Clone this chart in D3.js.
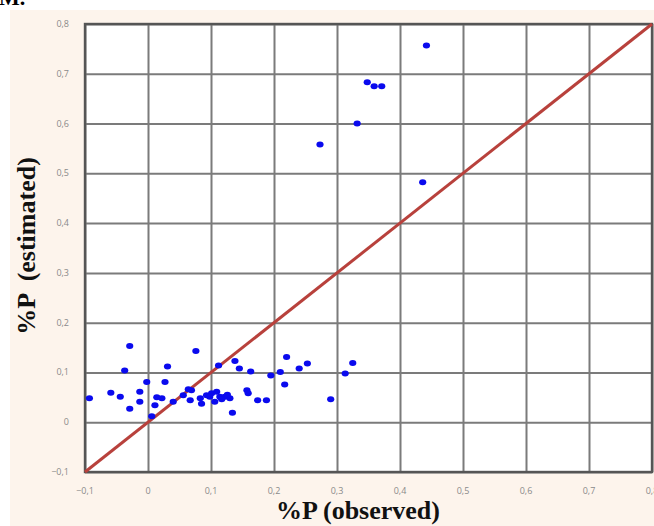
<!DOCTYPE html>
<html>
<head>
<meta charset="utf-8">
<script src="https://cdn.jsdelivr.net/npm/d3@7"></script>
<style>
  body { margin: 0; background: #fff; }
  .tick-label { font-family: "Open Sans", sans-serif; font-size: 9px; fill: #8a8a8a; }
  .axis-title { font-family: "Liberation Serif", serif; font-weight: bold; font-size: 26px; fill: #111; }
</style>
</head>
<body>
<div id="chart"></div>
<script>
// observed vs estimated %P
const observed = [
  0.442, 0.348, 0.359, 0.371, 0.332, 0.273, 0.436,
  -0.093, -0.059, -0.044, -0.029, -0.037, -0.029, -0.013, -0.013, -0.002, 0.006,
  0.011, 0.014, 0.022, 0.031, 0.027, 0.040, 0.056, 0.064, 0.069, 0.067,
  0.076, 0.083, 0.085, 0.093, 0.101, 0.109, 0.114, 0.106, 0.122, 0.130,
  0.112, 0.138, 0.145, 0.163, 0.157, 0.159, 0.134, 0.174, 0.188, 0.195,
  0.210, 0.220, 0.217, 0.240, 0.253, 0.290, 0.313, 0.325, 0.098, 0.117, 0.126
];
const estimated = [
  0.757, 0.683, 0.675, 0.675, 0.600, 0.558, 0.482,
  0.048, 0.059, 0.051, 0.153, 0.104, 0.027, 0.061, 0.041, 0.081, 0.012,
  0.034, 0.050, 0.048, 0.112, 0.081, 0.041, 0.054, 0.066, 0.064, 0.044,
  0.143, 0.048, 0.037, 0.054, 0.058, 0.061, 0.051, 0.041, 0.051, 0.048,
  0.114, 0.123, 0.108, 0.102, 0.064, 0.058, 0.019, 0.044, 0.044, 0.094,
  0.101, 0.131, 0.076, 0.108, 0.118, 0.046, 0.098, 0.119, 0.051, 0.046, 0.055
];
const xTicks = [-0.1, 0, 0.1, 0.2, 0.3, 0.4, 0.5, 0.6, 0.7, 0.8];
const yTicks = [-0.1, 0, 0.1, 0.2, 0.3, 0.4, 0.5, 0.6, 0.7, 0.8];
const identityLine = [-0.1, 0.8];

const W = 654, H = 526;
const margin = { top: 24, right: 2, bottom: 54, left: 85 };

const svg = d3.select('#chart').append('svg')
  .attr('width', W)
  .attr('height', H);

/* page-like peach background */
svg.append('rect')
  .attr('x', 10).attr('y', 10)
  .attr('width', W - 10).attr('height', H - 10)
  .attr('fill', '#fdf4ec');

/* cropped text from the source page (cut in the original too) */
svg.append('text')
  .attr('x', -1).attr('y', 5)
  .attr('font-family', 'Liberation Serif, serif')
  .attr('font-weight', 'bold')
  .attr('font-size', 22)
  .text('M.');

const x = d3.scaleLinear().domain([-0.1, 0.8]).range([margin.left, W - margin.right]);
const y = d3.scaleLinear().domain([-0.1, 0.8]).range([H - margin.bottom, margin.top]);

const fmt = (d) => d3.format('.1~f')(d).replace('.', ',');

/* plot area */
svg.append('rect')
  .attr('x', x(-0.1)).attr('y', y(0.8))
  .attr('width', x(0.8) - x(-0.1)).attr('height', y(-0.1) - y(0.8))
  .attr('fill', '#fff');

/* grid via axes */
const xGrid = svg.append('g')
  .attr('transform', `translate(0,${y(-0.1)})`)
  .call(d3.axisBottom(x).tickValues(xTicks).tickSize(-(y(-0.1) - y(0.8))).tickFormat(''));
const yGrid = svg.append('g')
  .attr('transform', `translate(${x(-0.1)},0)`)
  .call(d3.axisLeft(y).tickValues(yTicks).tickSize(-(x(0.8) - x(-0.1))).tickFormat(''));
[xGrid, yGrid].forEach((g) => {
  g.select('.domain').remove();
  g.selectAll('.tick line').attr('stroke', '#7b7b7b').attr('stroke-width', 2);
});

/* border */
svg.append('rect')
  .attr('x', x(-0.1)).attr('y', y(0.8))
  .attr('width', x(0.8) - x(-0.1)).attr('height', y(-0.1) - y(0.8))
  .attr('fill', 'none')
  .attr('stroke', '#555')
  .attr('stroke-width', 2.4);

/* tick labels */
svg.append('g').selectAll('text')
  .data(xTicks)
  .join('text')
  .attr('class', 'tick-label')
  .attr('x', (d) => x(d))
  .attr('y', y(-0.1) + 22)
  .attr('text-anchor', 'middle')
  .text(fmt);
svg.append('g').selectAll('text')
  .data(yTicks)
  .join('text')
  .attr('class', 'tick-label')
  .attr('x', x(-0.1) - 16)
  .attr('y', (d) => y(d) + 3)
  .attr('text-anchor', 'end')
  .text(fmt);

/* 1:1 line */
svg.append('line')
  .attr('x1', x(identityLine[0])).attr('y1', y(identityLine[0]))
  .attr('x2', x(identityLine[1])).attr('y2', y(identityLine[1]))
  .attr('stroke', '#b8413c')
  .attr('stroke-width', 3);

/* points */
svg.append('g').selectAll('ellipse')
  .data(observed.map((o, i) => [o, estimated[i]]))
  .join('ellipse')
  .attr('cx', (d) => x(d[0]))
  .attr('cy', (d) => y(d[1]))
  .attr('rx', 3.6)
  .attr('ry', 3)
  .attr('fill', '#0a0aee');

/* axis titles */
svg.append('text')
  .attr('class', 'axis-title')
  .attr('x', 358).attr('y', 519)
  .attr('text-anchor', 'middle')
  .text('%P (observed)');
svg.append('text')
  .attr('class', 'axis-title')
  .attr('transform', 'translate(35,246)rotate(-90)')
  .attr('text-anchor', 'middle')
  .style('white-space', 'pre')
  .text('%P  (estimated)');
</script>
</body>
</html>
